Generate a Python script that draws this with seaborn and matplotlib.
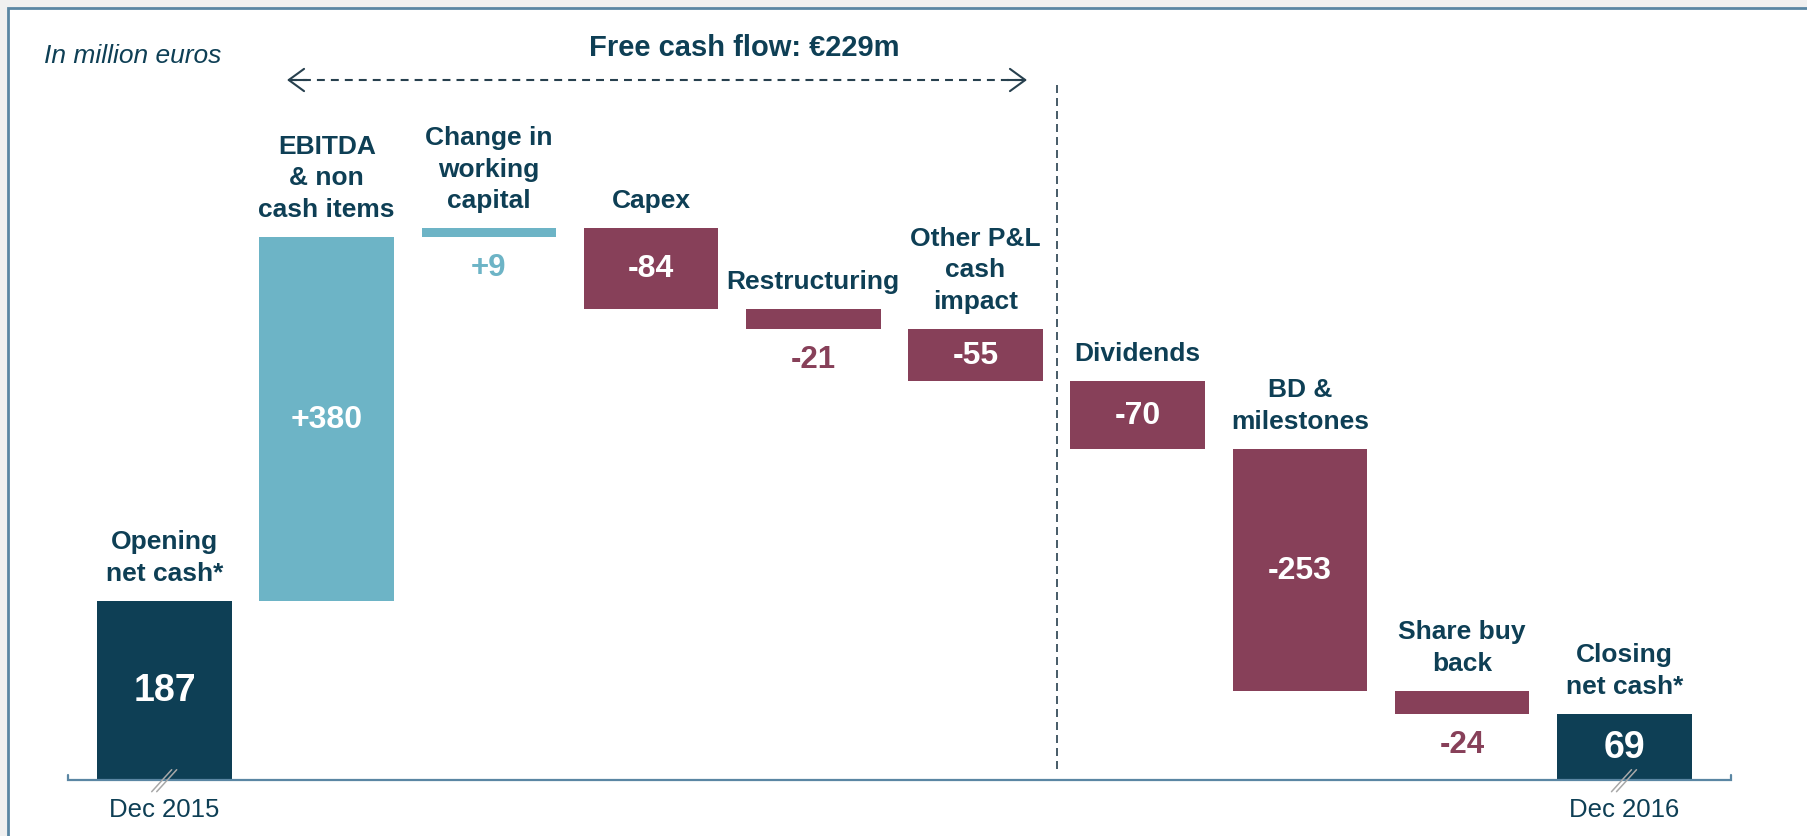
import numpy as np
import pandas as pd
import matplotlib
matplotlib.use('Agg')
import matplotlib.pyplot as plt
from matplotlib.patches import Rectangle
import seaborn as sns

# waterfall steps, in million euros
steps = ['Opening net cash', 'EBITDA', 'Working capital', 'Capex', 'Restructuring',
         'Other P&L', 'Dividends', 'BD', 'Share buy back', 'Closing net cash']
step_labels = ['Opening\nnet cash*', 'EBITDA\n& non\ncash items', 'Change in\nworking\ncapital',
               'Capex', 'Restructuring', 'Other P&L\ncash\nimpact', 'Dividends',
               'BD &\nmilestones', 'Share buy\nback', 'Closing\nnet cash*']
changes = [187, 380, 9, -84, -21, -55, -70, -253, -24, 69]
value_labels = ['187', '+380', '+9', '-84', '-21', '-55', '-70', '-253', '-24', '69']
kinds = ['total', 'up', 'up', 'down', 'down', 'down', 'down', 'down', 'down', 'total']
period_labels = ['Dec 2015', 'Dec 2016']
period_steps = [0, 9]
fcf_title = 'Free cash flow: €229m'
unit_note = 'In million euros'

NAVY = '#0E3F55'
BLUE = '#6DB4C6'
MAROON = '#874059'
DASH = '#27404E'
FRAME = '#5A86A3'
colors = {'total': NAVY, 'up': BLUE, 'down': MAROON}

# running level -> floating bar ends
bottoms, tops = [], []
level = 0
for v, k in zip(changes, kinds):
    if k == 'total':
        bottoms.append(0)
        tops.append(v)
        level = v
    else:
        new = level + v
        bottoms.append(min(level, new))
        tops.append(max(level, new))
        level = new

df = pd.DataFrame({'step': steps, 'top': tops, 'bottom': bottoms, 'kind': kinds})

sns.set_theme(style='white')
plt.rcParams['font.family'] = ['Liberation Sans', 'DejaVu Sans']

fig = plt.figure(figsize=(18.08, 8.37), dpi=100, facecolor='#F0F0F0')
# white panel with frame on the left and top
fig.patches.append(Rectangle((8 / 1808, -0.1), 1.2, 0.1 + 828 / 837, transform=fig.transFigure,
                             facecolor='white', edgecolor=FRAME, linewidth=2, zorder=-5))

ax = fig.add_axes([0, 0, 1, 1])
ax.patch.set_alpha(0)

sns.barplot(data=df, x='step', y='top', order=steps, width=0.83, errorbar=None,
            color=NAVY, saturation=1, ax=ax)
for patch, b, t, k in zip(ax.patches, bottoms, tops, kinds):
    patch.set_y(b)
    patch.set_height(t - b)
    patch.set_facecolor(colors[k])
    patch.set_edgecolor('none')

# pixel scale: 162.2 px per step, 0.958 px per million
PX = 1 / 162.2
PY = 1 / 0.958
ax.set_xlim(-164.5 * PX, (1808 - 164.5) * PX)
ax.set_ylim(-(837 - 781) * PY, 781 * PY)
ax.set_axis_off()

for i, (lab, val, b, t, k) in enumerate(zip(step_labels, value_labels, bottoms, tops, kinds)):
    ax.annotate(lab, (i, t), xytext=(0, 11.5), textcoords='offset points', ha='center',
                va='bottom', fontsize=19, fontweight='bold', color=NAVY, linespacing=1.4)
    if abs(t - b) < 30:
        ax.annotate(val, (i, b), xytext=(0, -22), textcoords='offset points', ha='center',
                    va='center', fontsize=22.5, fontweight='bold', color=colors[k])
    else:
        ax.text(i, (b + t) / 2, val, ha='center', va='center', color='white',
                fontsize=27 if k == 'total' else 23, fontweight='bold')

# baseline with end ticks
ax.plot([-96.5 * PX, -96.5 * PX, 9 + 106.5 * PX, 9 + 106.5 * PX], [5 * PY, 0, 0, 5 * PY],
        color=FRAME, lw=1.6, solid_joinstyle='miter', clip_on=False)

for i, lab in zip(period_steps, period_labels):
    ax.annotate(lab, (i, 0), xytext=(0, -21), textcoords='offset points', ha='center',
                va='center', fontsize=18.5, color=NAVY)
    # axis break marks
    for dx in (0, 5):
        ax.plot([i + (-12.8 + dx) * PX, i + (7.2 + dx) * PX], [-11.7 * PY, 10.3 * PY],
                color='#A8A8A8', lw=1.1)

# free cash flow span
y_arrow = (781 - 81) * PY
x0, x1 = (287 - 164.5) * PX, (1027 - 164.5) * PX
ax.plot([x0 + 2 * PX, x1 - 2 * PX], [y_arrow, y_arrow], color=DASH, lw=1.5,
        ls=(0, (3.8, 2.9)))
for tip, tail in ((x0, x0 + 20 * PX), (x1, x1 - 20 * PX)):
    ax.annotate('', xy=(tip, y_arrow), xytext=(tail, y_arrow),
                arrowprops=dict(arrowstyle='->,head_length=0.55,head_width=0.4',
                                color=DASH, lw=1.5, mutation_scale=20, shrinkA=0, shrinkB=0))
ax.vlines(5.5, 11 * PY, (781 - 82) * PY, color=DASH, lw=1.2, linestyles=[(0, (4.8, 3.0))])

fig.text(744 / 1808, 1 - 48 / 837, fcf_title, ha='center', va='center', fontsize=21,
         fontweight='bold', color=NAVY)
fig.text(44 / 1808, 1 - 56 / 837, unit_note, ha='left', va='center', fontsize=19,
         style='italic', color=NAVY)

fig.savefig('out.png', dpi=100, facecolor=fig.get_facecolor())
